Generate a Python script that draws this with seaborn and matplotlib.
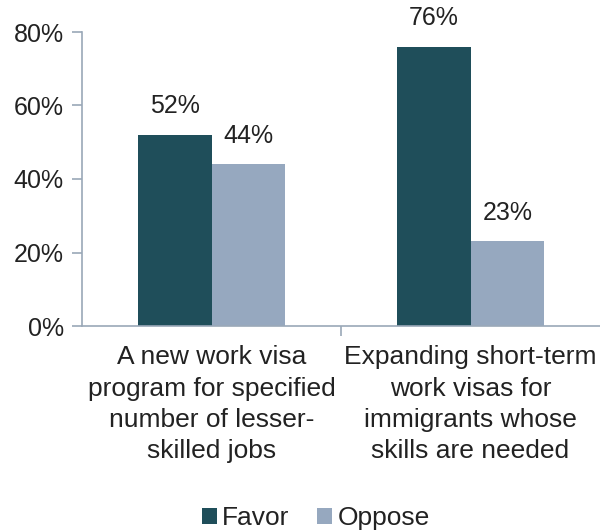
import matplotlib
matplotlib.use("Agg")
import matplotlib.pyplot as plt
import seaborn as sns
import pandas as pd

categories = ["A new work visa\nprogram for specified\nnumber of lesser-\nskilled jobs",
              "Expanding short-term\nwork visas for\nimmigrants whose\nskills are needed"]
series = ["Favor", "Oppose"]
favor = [52, 76]
oppose = [44, 23]
yticks = [0, 20, 40, 60, 80]

colors = {"Favor": "#1f4e5a", "Oppose": "#96a8bf"}

sns.set_style("white")
plt.rcParams['font.family'] = ['Liberation Sans', 'DejaVu Sans']

df = pd.DataFrame({
    "cat": categories * 2,
    "series": ["Favor"] * 2 + ["Oppose"] * 2,
    "val": favor + oppose,
})

fig = plt.figure(figsize=(6, 5.31), dpi=100)
ax = fig.add_axes([82/600, 1-326/531, (600-82)/600, (326-32)/531])
sns.barplot(data=df, x="cat", y="val", hue="series", hue_order=series,
            palette=colors, width=0.57, saturation=1, ax=ax, legend=True,
            linewidth=0)

txt_c = "#222222"
for cont in ax.containers:
    ax.bar_label(cont, labels=[f"{v:.0f}%" for v in cont.datavalues],
                 padding=12, fontsize=18, color=txt_c)

ax.set_xlim(-0.5, 1.5)
ax.set_ylim(0, 80)
ax.set_yticks(yticks)
ax.set_yticklabels([f"{t}%" for t in yticks], fontsize=18, color=txt_c)
ax.set_xticks([0, 1])
ax.set_xticklabels(categories, fontsize=19, color=txt_c, linespacing=1.38)
ax.set_xlabel("")
ax.set_ylabel("")

spine_c = "#9aa8b8"
for s in ["top", "right"]:
    ax.spines[s].set_visible(False)
for s in ["left", "bottom"]:
    ax.spines[s].set_color(spine_c)
    ax.spines[s].set_linewidth(1.2)
ax.tick_params(axis="y", length=7, color=spine_c, width=1.2, pad=6, left=True)
ax.tick_params(axis="x", length=0, pad=14)
ax.set_xticks([0.5], minor=True)
ax.tick_params(axis="x", which="minor", length=7, color=spine_c, width=1.2, bottom=True)

handles, labels = ax.get_legend_handles_labels()
ax.get_legend().remove()
leg = fig.legend(handles, labels, loc="center", bbox_to_anchor=(316/600, 1-518/531),
                 ncol=2, frameon=False, fontsize=19, handlelength=0.55, handleheight=0.55,
                 handletextpad=0.22, columnspacing=1.05)
for t in leg.get_texts():
    t.set_color(txt_c)

fig.savefig("out.png", dpi=100)
